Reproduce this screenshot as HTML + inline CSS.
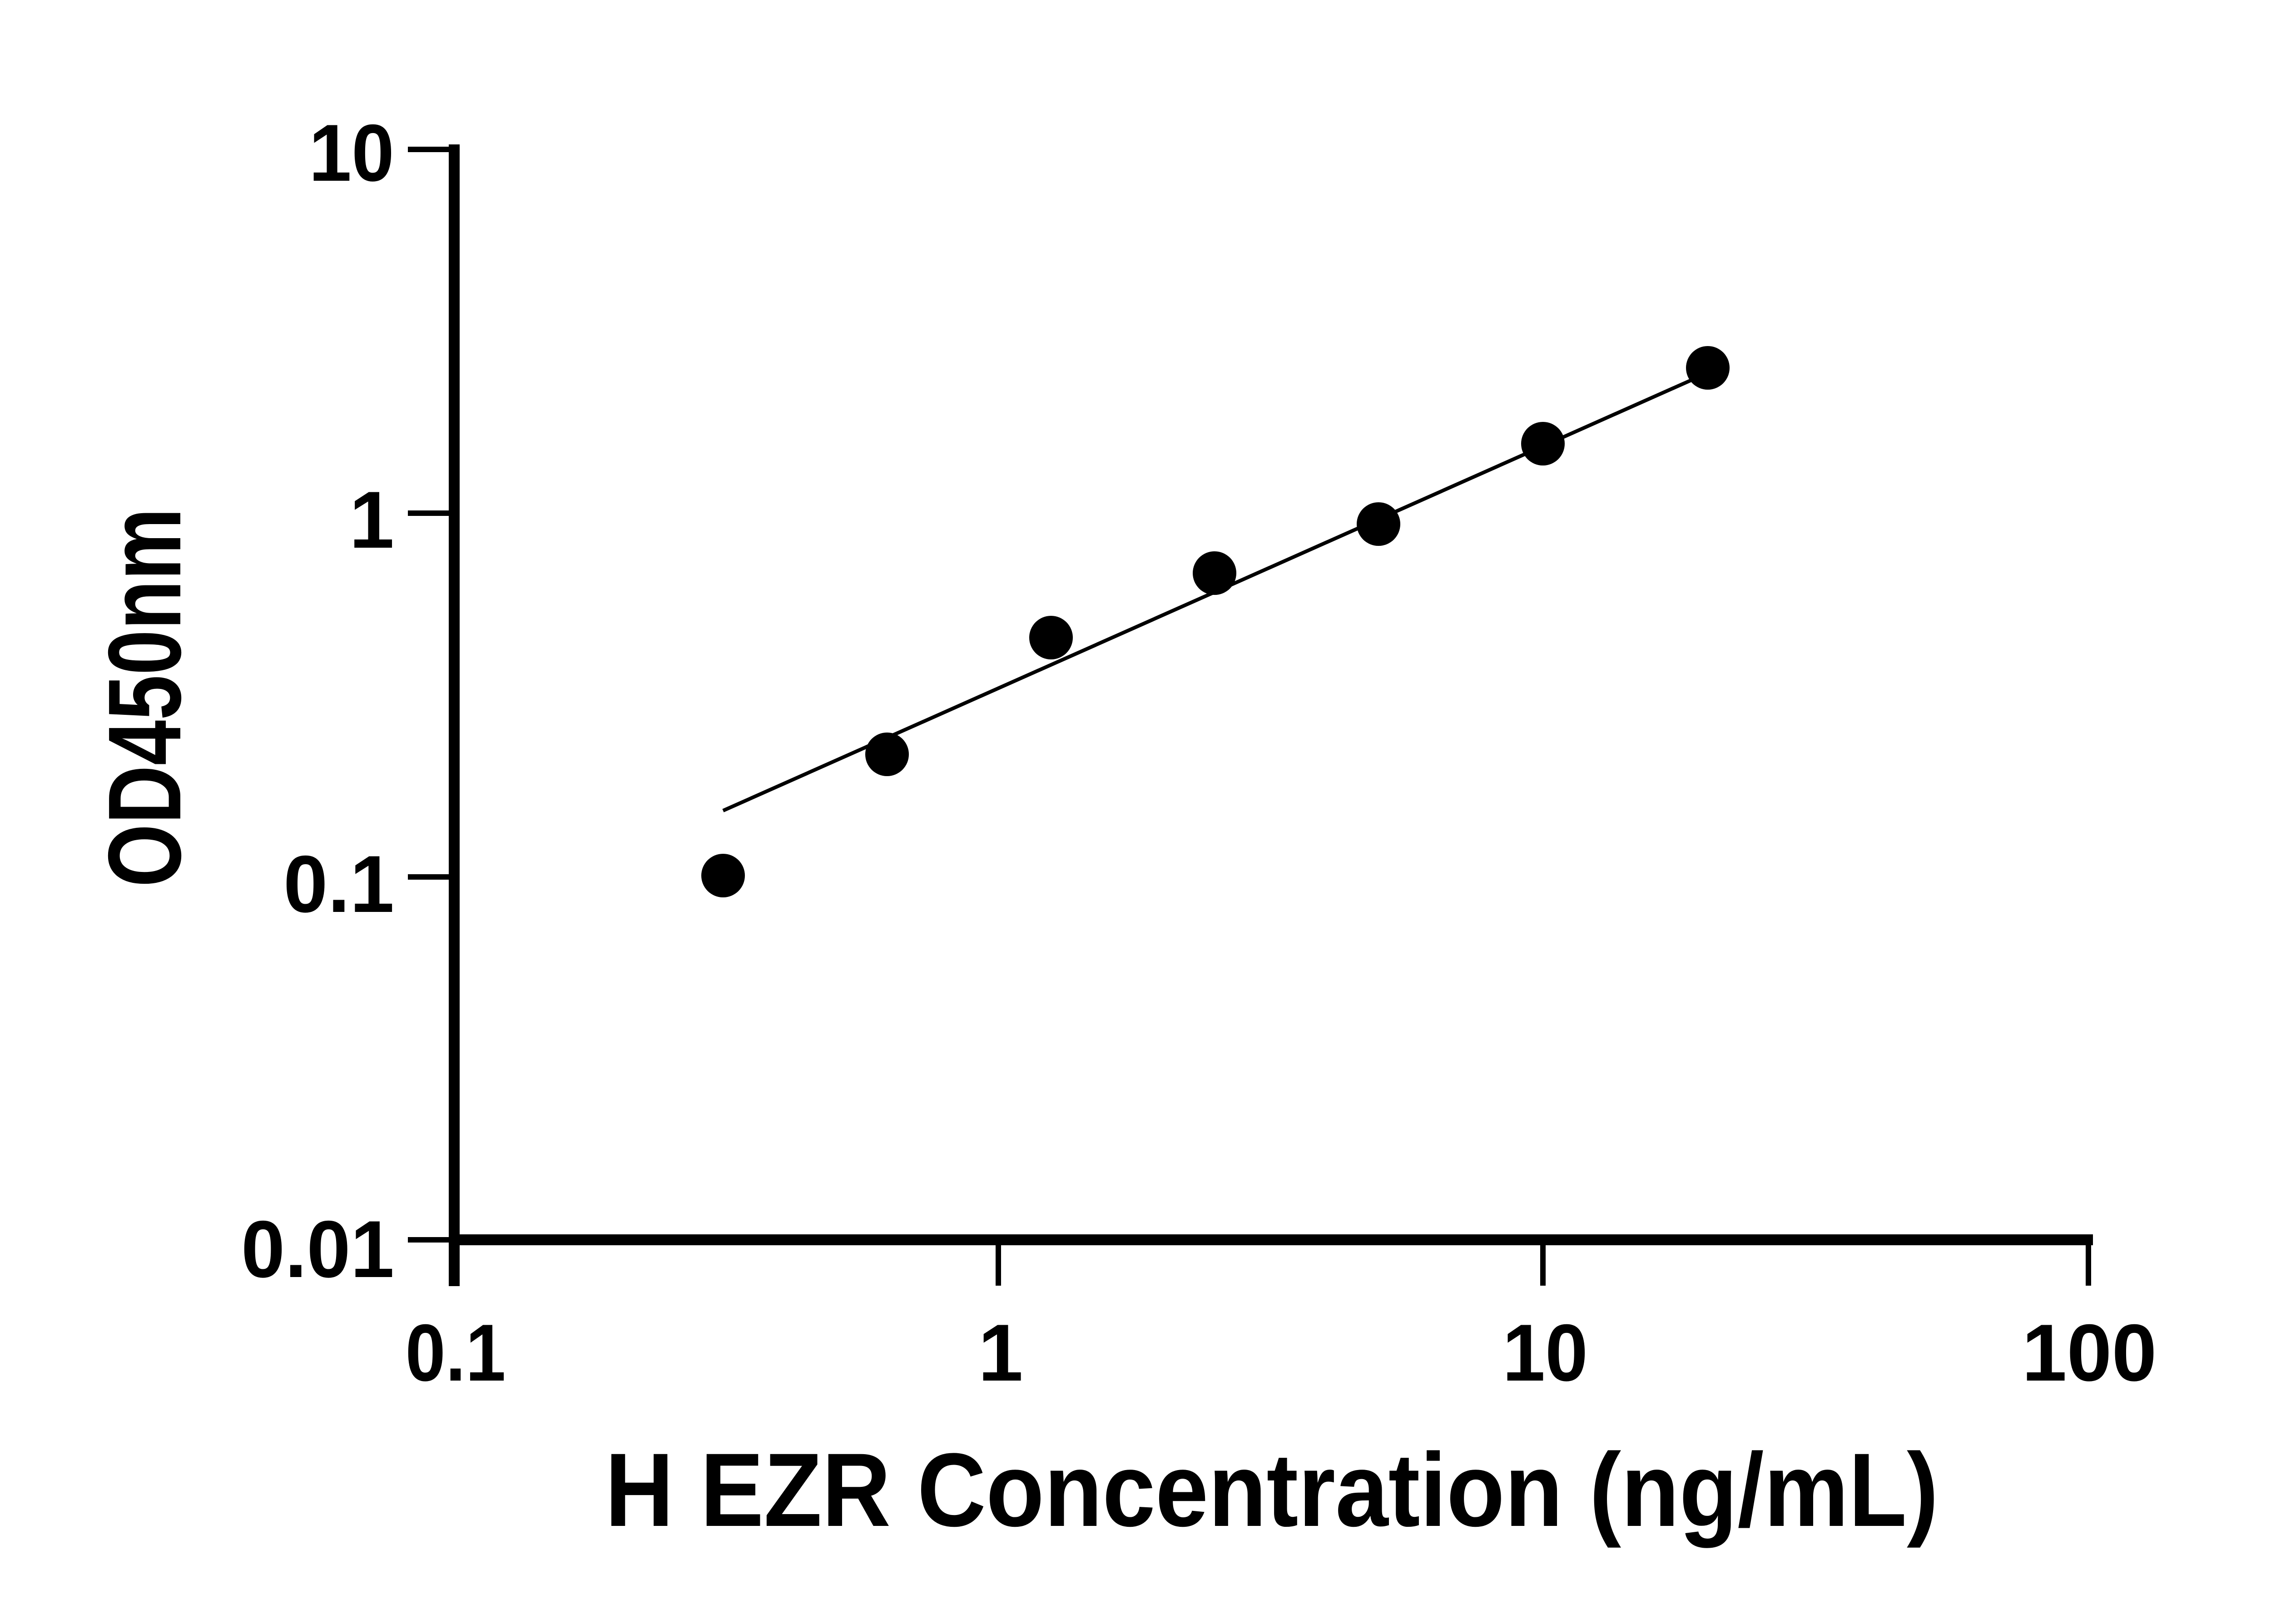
<!DOCTYPE html>
<html><head><style>html,body{margin:0;padding:0;background:#fff;}svg{display:block}</style></head>
<body>
<svg width="5170" height="3576" viewBox="0 0 5170 3576" xmlns="http://www.w3.org/2000/svg" font-family="Liberation Sans, Arial, sans-serif" font-weight="bold">
<rect width="5170" height="3576" fill="#fff"/>
<g stroke="#000" stroke-width="12" fill="none">
<line x1="1000" y1="318" x2="1000" y2="2832" stroke-width="24"/>
<line x1="990" y1="2730" x2="4608" y2="2730" stroke-width="24"/>
<line x1="898" y1="329" x2="1000" y2="329"/>
<line x1="898" y1="1130" x2="1000" y2="1130"/>
<line x1="898" y1="1931" x2="1000" y2="1931"/>
<line x1="898" y1="2730" x2="1000" y2="2730"/>
<line x1="2198" y1="2730" x2="2198" y2="2831"/>
<line x1="3397" y1="2730" x2="3397" y2="2831"/>
<line x1="4598" y1="2730" x2="4598" y2="2831"/>
<line x1="1592" y1="1785" x2="3726" y2="836" stroke-width="8"/>
</g>
<g font-size="178" text-anchor="end" fill="#000">
<text x="868" y="398" textLength="188" lengthAdjust="spacingAndGlyphs">10</text>
<text x="868" y="1206">1</text>
<text x="868" y="2008" textLength="244" lengthAdjust="spacingAndGlyphs">0.1</text>
<text x="868" y="2812" textLength="337" lengthAdjust="spacingAndGlyphs">0.01</text>
</g>
<g font-size="178" text-anchor="middle" fill="#000">
<text x="1003" y="3040" textLength="221" lengthAdjust="spacingAndGlyphs">0.1</text>
<text x="2203" y="3040">1</text>
<text x="3402" y="3040" textLength="188" lengthAdjust="spacingAndGlyphs">10</text>
<text x="4600" y="3040" textLength="297" lengthAdjust="spacingAndGlyphs">100</text>
</g>
<text x="2800" y="3360" font-size="230" text-anchor="middle" textLength="2936" lengthAdjust="spacingAndGlyphs">H EZR Concentration (ng/mL)</text>
<text transform="translate(397,1536) rotate(-90)" font-size="228" text-anchor="middle" textLength="835" lengthAdjust="spacingAndGlyphs">OD450nm</text>
<g fill="#000">
<circle cx="1592" cy="1928" r="48"/>
<circle cx="1953" cy="1661" r="48"/>
<circle cx="2314" cy="1404" r="48"/>
<circle cx="2674" cy="1262" r="48"/>
<circle cx="3035" cy="1154" r="48"/>
<circle cx="3397" cy="977" r="48"/>
<circle cx="3760" cy="810" r="48"/>
</g>
</svg>
</body></html>
